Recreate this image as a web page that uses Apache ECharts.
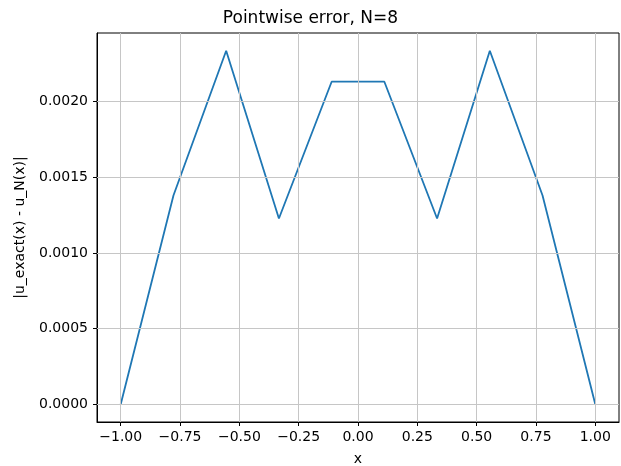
<!DOCTYPE html>
<html>
<head>
<meta charset="utf-8">
<script src="https://cdn.jsdelivr.net/npm/echarts@6/dist/echarts.min.js"></script>
<style>
html, body { margin: 0; padding: 0; background: #fff; }
#chart { width: 621px; height: 466px; }
</style>
</head>
<body>
<div id="chart"></div>
<script>
// nodes and pointwise error
var xNodes = [-1, -0.7778, -0.5556, -0.3333, -0.1111, 0.1111, 0.3333, 0.5556, 0.7778, 1];
var errValues = [0, 0.00138, 0.002337, 0.001228, 0.002132, 0.002132, 0.001228, 0.002337, 0.00138, 0];
var xTicks = [-1, -0.75, -0.5, -0.25, 0, 0.25, 0.5, 0.75, 1];
var yTicks = [0, 0.0005, 0.001, 0.0015, 0.002];

var myChart = echarts.init(document.getElementById('chart'));
var font = 'DejaVu Sans';
var gridColor = '#c6c6c6';

var pts = [];
for (var i = 0; i < xNodes.length; i++) {
    pts.push([xNodes[i], errValues[i]]);
}

var gridLines = [];
xTicks.forEach(function (v) { gridLines.push({ xAxis: v }); });
yTicks.forEach(function (v) { gridLines.push({ yAxis: v }); });

function minus(s) { return s.replace('-', '\u2212'); }

var option = {
    animation: false,
    title: {
        text: 'Pointwise error, N=8',
        left: 'center',
        top: 5,
        textStyle: { fontFamily: font, fontSize: 17, fontWeight: 'normal', color: '#000' }
    },
    grid: {
        left: 97, right: 2, top: 33, bottom: 44,
        outerBoundsMode: 'none',
        show: true, borderColor: '#000', borderWidth: 1
    },
    xAxis: {
        type: 'value',
        min: -1.1,
        max: 1.1,
        name: 'x',
        nameLocation: 'middle',
        nameGap: 30,
        nameTextStyle: { fontFamily: font, fontSize: 14, color: '#000' },
        axisLine: { show: true, onZero: false, lineStyle: { color: '#000' } },
        axisTick: { show: true, length: 4, customValues: xTicks, lineStyle: { color: '#000' } },
        axisLabel: {
            customValues: xTicks,
            fontFamily: font, fontSize: 14, color: '#000', margin: 8,
            formatter: function (v) { return minus(v.toFixed(2)); }
        },
        splitLine: { show: false }
    },
    yAxis: {
        type: 'value',
        min: -0.0001169,
        max: 0.002454,
        name: '|u_exact(x) - u_N(x)|',
        nameLocation: 'middle',
        nameGap: 70,
        nameRotate: 90,
        nameTextStyle: { fontFamily: font, fontSize: 14, color: '#000' },
        axisLine: { show: true, onZero: false, lineStyle: { color: '#000' } },
        axisTick: { show: true, length: 4, customValues: yTicks, lineStyle: { color: '#000' } },
        axisLabel: {
            customValues: yTicks,
            fontFamily: font, fontSize: 14, color: '#000', margin: 9,
            formatter: function (v) { return v.toFixed(4); }
        },
        splitLine: { show: false }
    },
    series: [
        {
            // invisible carrier for the grid lines, drawn under the curve
            type: 'line',
            data: pts,
            silent: true,
            z: 1,
            symbol: 'none',
            lineStyle: { opacity: 0 },
            markLine: {
                silent: true,
                symbol: 'none',
                precision: 6,
                label: { show: false },
                animation: false,
                lineStyle: { color: gridColor, width: 1, type: 'solid' },
                data: gridLines
            }
        },
        {
            name: 'error',
            type: 'line',
            z: 3,
            symbol: 'none',
            lineStyle: { color: '#1f77b4', width: 1.8 },
            data: pts
        }
    ]
};

myChart.setOption(option);
</script>
</body>
</html>
